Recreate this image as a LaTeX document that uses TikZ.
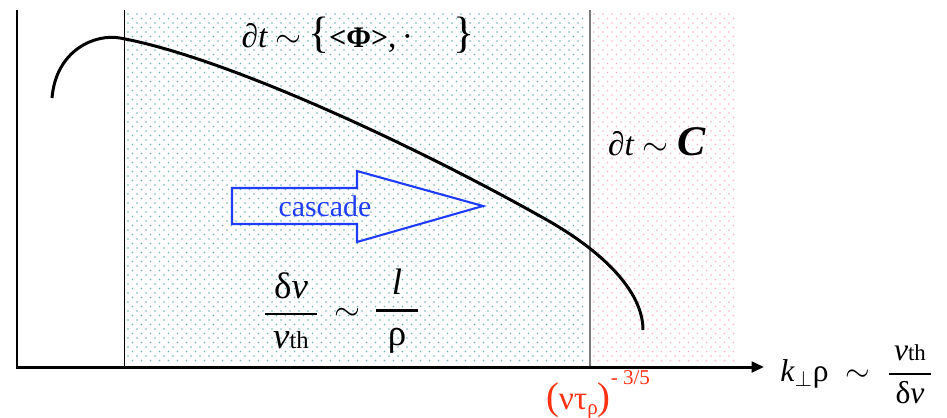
\documentclass[tikz,border=0pt]{standalone}
\usepackage{fix-cm}
\usepackage{amsmath}
\usepackage[no-math]{fontspec}
\setmainfont{Liberation Serif}
\usepackage{tikz}
\usetikzlibrary{arrows.meta}
\definecolor{dotT}{HTML}{6FB3B6}
\definecolor{dotP}{HTML}{FFAFC6}
\definecolor{cBlue}{HTML}{1E3CFA}
\definecolor{cRed}{HTML}{FF3214}
\definecolor{lineG}{HTML}{7A7A7A}
\tikzset{
  spec/.style={line width=1.7pt, black},
  axisline/.style={line width=1.7pt, black, -{Triangle[length=7pt, width=6pt]}},
  bandline/.style={line width=0.5pt},
  cascarrow/.style={cBlue, line width=1.2pt, line join=miter},
  lab/.style={inner sep=0pt, font=\fontsize{19}{22}\selectfont},
}

\begin{document}
\begin{tikzpicture}[x=0.02cm, y=-0.02cm]
  \useasboundingbox (0,0) rectangle (947,417);
  % dotted bands
  \foreach \j in {0,...,77} {
    \pgfmathsetmacro\yy{14+4.5*\j}
    \pgfmathsetmacro\off{mod(\j,2)*4.5}
    \fill[dotT] \foreach \i in {0,...,50} {(128+\off+9*\i,\yy) circle (0.9)};
    \fill[dotP] \foreach \i in {0,...,15} {(594+\off+9*\i,\yy) circle (0.9)};
  }
  \coordinate (origin) at (17,367);
  \coordinate (ytop) at (17,10);
  \coordinate (xend) at (764,367);
  \coordinate (injtop) at (124,10);
  \coordinate (injbot) at (124,367);
  \coordinate (dsstop) at (590,10);
  \coordinate (dssbot) at (590,367);
  \draw[bandline, black] (injtop) -- (injbot);
  \draw[bandline, lineG, line width=0.8pt] (dsstop) -- (dssbot);
  \draw[axisline] (ytop) -- (origin) -- (xend);
  % spectrum
  \draw[spec] (52,98) .. controls (56,50) and (95,33.5) .. (120,38)
    .. controls (230,58) and (427,152) .. (547,220)
    .. controls (600,250) and (643,290) .. (643,330);
  % cascade arrow
  \draw[cascarrow] (232,188) -- (357,188) -- (357,171) -- (483,206)
    -- (357,242) -- (357,224) -- (232,224) -- cycle;
  \node[lab, cBlue, anchor=base, font=\fontsize{17}{20}\selectfont] (casclab)
    at (325,216) {cascade};
  % labels
  \node[lab] (fluxlab) at (358,35)
    {∂\textit{t}\kern4pt$\sim$\kern4pt{\fontsize{25}{25}\selectfont\{}{\fontsize{17}{17}\selectfont\textbf{<Φ>}},\,·\hspace{1.2em}{\fontsize{25}{25}\selectfont\}}};
  \node[lab] (collab) at (657,142)
    {∂\textit{t} $\sim$ {\fontsize{24}{24}\selectfont\textbf{\textit{C}}}};
  \node[lab, font=\fontsize{21}{24}\selectfont] (lfrac) at (291,311)
    {$\genfrac{}{}{1.2pt}{0}{\kern5pt\text{δ\textit{v}}\kern5pt}{\text{\textit{v}{\fontsize{14}{14}\selectfont th}}}$};
  \node[lab] (simlab) at (347,314) {$\sim$};
  \node[lab, font=\fontsize{21}{24}\selectfont] (rfrac) at (397,311)
    {$\genfrac{}{}{1.2pt}{0}{\kern9pt\text{\textit{l}}\kern9pt}{\text{ρ}}$};
  \node[lab, cRed, anchor=base] (cutlab) at (598,409)
    {{\fontsize{22}{22}\selectfont(}ντ\raisebox{-0.35ex}{\fontsize{12}{12}\selectfont ρ}{\fontsize{22}{22}\selectfont)}\raisebox{1.6ex}{\fontsize{12}{12}\selectfont - 3/5}};
  \node[lab, anchor=west, font=\fontsize{18}{21}\selectfont] (xlab) at (780,374)
    {\textit{k}$_\perp$ρ \;$\sim$\; $\genfrac{}{}{1.2pt}{0}{\kern3pt\text{\textit{v}{\fontsize{13}{13}\selectfont th}}\kern3pt}{\text{δ\textit{v}}}$};
\end{tikzpicture}
\end{document}
